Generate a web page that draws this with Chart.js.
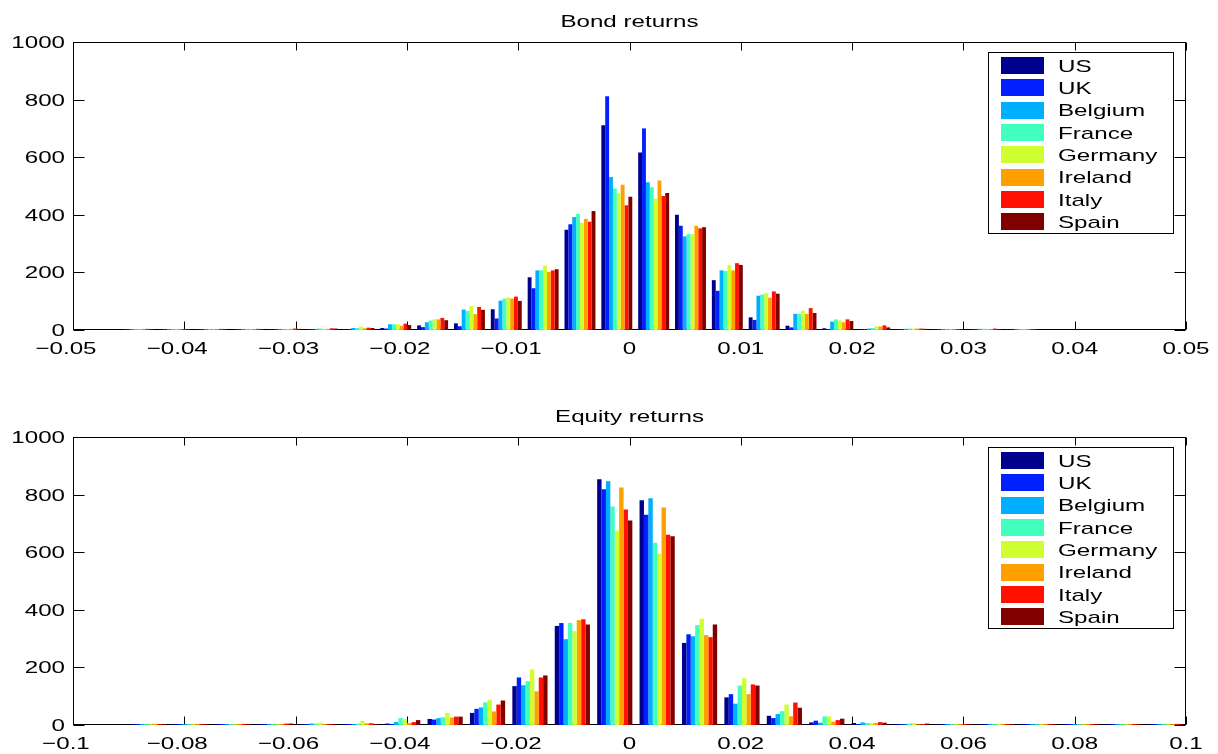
<!DOCTYPE html>
<html>
<head>
<meta charset="utf-8">
<title>Bond and equity returns</title>
<script src="https://cdn.jsdelivr.net/npm/chart.js@4/dist/chart.umd.min.js"></script>
<style>
  html, body { margin: 0; padding: 0; background: #fff; overflow: hidden; }
  .panel { position: absolute; left: 0; width: 1218px; height: 360px; }
  #bondPanel { top: 0; }
  #equityPanel { top: 395px; }
</style>
</head>
<body>
<div class="panel" id="bondPanel"><canvas id="bondChart"></canvas></div>
<div class="panel" id="equityPanel"><canvas id="equityChart"></canvas></div>

<script>
// countries and colours (jet colormap)
var countries = ['US', 'UK', 'Belgium', 'France', 'Germany', 'Ireland', 'Italy', 'Spain'];
var colors = ['#00008F', '#0020FF', '#00AFFF', '#40FFBF', '#CFFF30', '#FF9F00', '#FF1000', '#800000'];

// ---bond returns: bin centres and counts per country
var bondBins = [-0.04417, -0.04086, -0.03755, -0.03424, -0.03093, -0.02762, -0.02431, -0.02100,
  -0.01769, -0.01438, -0.01107, -0.00776, -0.00445, -0.00114, 0.00217, 0.00548, 0.00879,
  0.01210, 0.01541, 0.01872, 0.02203, 0.02534, 0.02865, 0.03196, 0.03527];
var bondUS      = [3, 3, 3, 3, 3, 3, 3, 7, 16, 23, 72, 183, 348, 711, 616, 400, 173, 44, 15, 6, 3, 3, 3, 3, 2];
var bondUK      = [3, 3, 3, 3, 3, 3, 3, 5, 10, 13, 40, 145, 367, 812, 700, 362, 136, 35, 9, 3, 3, 3, 3, 3, 2];
var bondBelgium = [3, 3, 3, 3, 3, 4, 7, 20, 27, 71, 102, 207, 392, 531, 513, 325, 207, 119, 56, 29, 5, 4, 3, 4, 3];
var bondFrance  = [3, 3, 3, 3, 3, 5, 7, 20, 33, 66, 109, 207, 403, 491, 496, 333, 205, 123, 56, 37, 7, 5, 3, 4, 3];
var bondGermany = [3, 3, 3, 3, 3, 4, 12, 20, 37, 83, 113, 223, 372, 475, 456, 333, 226, 128, 67, 33, 13, 5, 3, 3, 3];
var bondIreland = [3, 3, 3, 3, 4, 4, 6, 15, 37, 55, 109, 202, 386, 504, 519, 362, 207, 112, 56, 27, 12, 5, 3, 3, 3];
var bondItaly   = [4, 3, 4, 4, 5, 6, 8, 22, 42, 80, 116, 207, 376, 433, 465, 353, 232, 134, 76, 37, 16, 5, 3, 5, 3];
var bondSpain   = [3, 3, 3, 3, 4, 5, 7, 17, 34, 70, 101, 211, 413, 463, 476, 357, 226, 126, 59, 31, 9, 4, 3, 3, 3];

// ---equity returns: bin centres and counts per country
var equityBins = [-0.08647, -0.07885, -0.07123, -0.06361, -0.05599, -0.04837, -0.04075, -0.03313,
  -0.02551, -0.01789, -0.01027, -0.00265, 0.00497, 0.01259, 0.02021, 0.02783, 0.03545,
  0.04307, 0.05069, 0.05831, 0.06593, 0.07355, 0.08117, 0.08879, 0.09641];
var equityUS      = [3, 3, 3, 3, 3, 3, 5, 21, 42, 135, 344, 853, 780, 285, 96, 32, 9, 7, 2, 2, 2, 3, 3, 3, 3];
var equityUK      = [3, 3, 3, 3, 3, 3, 3, 19, 56, 165, 354, 819, 730, 315, 107, 24, 15, 3, 3, 2, 2, 3, 3, 3, 3];
var equityBelgium = [3, 3, 3, 3, 5, 3, 10, 24, 61, 138, 298, 846, 787, 308, 74, 38, 8, 9, 2, 3, 3, 3, 3, 3, 3];
var equityFrance  = [3, 3, 3, 3, 5, 5, 24, 27, 79, 152, 354, 759, 633, 347, 137, 48, 30, 7, 5, 3, 3, 3, 3, 3, 3];
var equityGermany = [3, 3, 3, 3, 8, 14, 21, 42, 88, 193, 326, 675, 595, 369, 162, 71, 30, 7, 7, 3, 4, 3, 3, 3, 3];
var equityIreland = [4, 3, 3, 3, 3, 6, 7, 26, 47, 117, 364, 825, 755, 312, 107, 30, 12, 7, 2, 3, 3, 3, 3, 3, 3];
var equityItaly   = [3, 3, 4, 5, 3, 6, 10, 29, 71, 165, 367, 748, 661, 305, 141, 78, 17, 10, 3, 3, 3, 3, 3, 3, 4];
var equitySpain   = [3, 3, 3, 5, 3, 3, 17, 29, 85, 172, 349, 710, 655, 349, 137, 60, 22, 8, 5, 3, 3, 3, 3, 3, 3];

// ---axis ticks
var bondTicks = { min: -0.05, max: 0.05, step: 0.01 };
var equityTicks = { min: -0.1, max: 0.1, step: 0.02 };
var countTicks = { min: 0, max: 1000, step: 200 };

// the figure text is wide, so stretch it horizontally
var SX = 1.42;
var FONT = '17px "Liberation Sans", Arial, Helvetica, sans-serif';

function wideText(ctx, text, x, y, align) {
  ctx.save();
  ctx.translate(x, y);
  ctx.scale(SX, 1);
  ctx.textAlign = align;
  ctx.textBaseline = 'alphabetic';
  ctx.fillText(text, 0, 0);
  ctx.restore();
}

function tickText(v) {
  return parseFloat(v.toFixed(3)).toString().replace('-', '\u2212');
}

// axes box, inward ticks, labels and title go under the bars (matlab layer bottom),
// the legend goes on top
var matlabFrame = {
  id: 'matlabFrame',
  beforeDatasetsDraw: function(chart, args, opts) {
    var ctx = chart.ctx;
    var a = chart.chartArea;
    var xs = chart.scales.x;
    var ys = chart.scales.y;
    var left = Math.round(a.left) + 0.5;
    var right = Math.round(a.right) - 0.5;
    var top = Math.round(a.top) + 0.5;
    var bottom = Math.round(a.bottom) - 0.5;

    ctx.save();
    ctx.strokeStyle = '#000';
    ctx.fillStyle = '#000';
    ctx.lineWidth = 1;
    ctx.font = FONT;
    ctx.strokeRect(left, top, right - left, bottom - top);

    var minusHalf = ctx.measureText('\u2212').width * SX / 2;
    ctx.beginPath();
    xs.ticks.forEach(function(t) {
      var px = Math.round(xs.getPixelForValue(t.value)) + 0.5;
      ctx.moveTo(px, bottom);
      ctx.lineTo(px, bottom - 8);
      ctx.moveTo(px, top);
      ctx.lineTo(px, top + 8);
    });
    ys.ticks.forEach(function(t) {
      var py = Math.round(ys.getPixelForValue(t.value)) + 0.5;
      ctx.moveTo(left, py);
      ctx.lineTo(left + 11, py);
      ctx.moveTo(right, py);
      ctx.lineTo(right - 11, py);
    });
    ctx.stroke();

    xs.ticks.forEach(function(t) {
      var px = xs.getPixelForValue(t.value);
      var s = tickText(t.value);
      // matlab centres the number, the minus sign hangs to the left
      var shift = s.charAt(0) === '\u2212' ? minusHalf : 0;
      wideText(ctx, s, px - shift, a.bottom + 24, 'center');
    });
    ys.ticks.forEach(function(t) {
      var py = ys.getPixelForValue(t.value);
      wideText(ctx, tickText(t.value), a.left - 8, py + 6, 'right');
    });

    // title
    wideText(ctx, opts.title, (a.left + a.right) / 2, a.top - 15, 'center');
    ctx.restore();
  },
  afterDraw: function(chart) {
    var ctx = chart.ctx;
    var a = chart.chartArea;
    var bx = Math.round(a.right) - 198 + 0.5;
    var by = Math.round(a.top) + 10.5;

    ctx.save();
    ctx.font = FONT;
    ctx.lineWidth = 1;
    ctx.strokeStyle = '#000';
    ctx.fillStyle = '#fff';
    ctx.fillRect(bx, by, 185, 181);
    ctx.strokeRect(bx, by, 185, 181);
    chart.data.datasets.forEach(function(ds, i) {
      var rowTop = by + 4.5 + i * 22.3;
      ctx.fillStyle = ds.backgroundColor;
      ctx.fillRect(bx + 12.5, Math.round(rowTop), 43, 17);
      ctx.fillStyle = '#000';
      wideText(ctx, ds.label, bx + 69.5, rowTop + 14.7, 'left');
    });
    ctx.restore();
  }
};

function makeChart(canvasId, title, bins, series, xTicks, groupWidth) {
  var datasets = countries.map(function(name, i) {
    return {
      label: name,
      data: bins.map(function(c, k) { return { x: c, y: series[i][k] }; }),
      backgroundColor: colors[i],
      borderWidth: 0,
      categoryPercentage: groupWidth,
      barPercentage: 1.0
    };
  });

  return new Chart(document.getElementById(canvasId), {
    type: 'bar',
    data: { datasets: datasets },
    options: {
      responsive: true,
      maintainAspectRatio: false,
      animation: false,
      layout: { padding: { top: 42, right: 32, bottom: 0, left: 0 } },
      plugins: {
        legend: { display: false },
        tooltip: { enabled: false },
        matlabFrame: { title: title }
      },
      scales: {
        x: {
          type: 'linear',
          min: xTicks.min,
          max: xTicks.max,
          offset: false,
          grid: { display: false },
          border: { display: false },
          ticks: { display: false, stepSize: xTicks.step },
          afterFit: function(scale) { scale.height = 30; }
        },
        y: {
          min: countTicks.min,
          max: countTicks.max,
          grid: { display: false },
          border: { display: false },
          ticks: { display: false, stepSize: countTicks.step },
          afterFit: function(scale) { scale.width = 73; }
        }
      }
    },
    plugins: [matlabFrame]
  });
}

makeChart('bondChart', 'Bond returns', bondBins,
  [bondUS, bondUK, bondBelgium, bondFrance, bondGermany, bondIreland, bondItaly, bondSpain],
  bondTicks, 0.84);

makeChart('equityChart', 'Equity returns', equityBins,
  [equityUS, equityUK, equityBelgium, equityFrance, equityGermany, equityIreland, equityItaly, equitySpain],
  equityTicks, 0.83);
</script>
</body>
</html>
